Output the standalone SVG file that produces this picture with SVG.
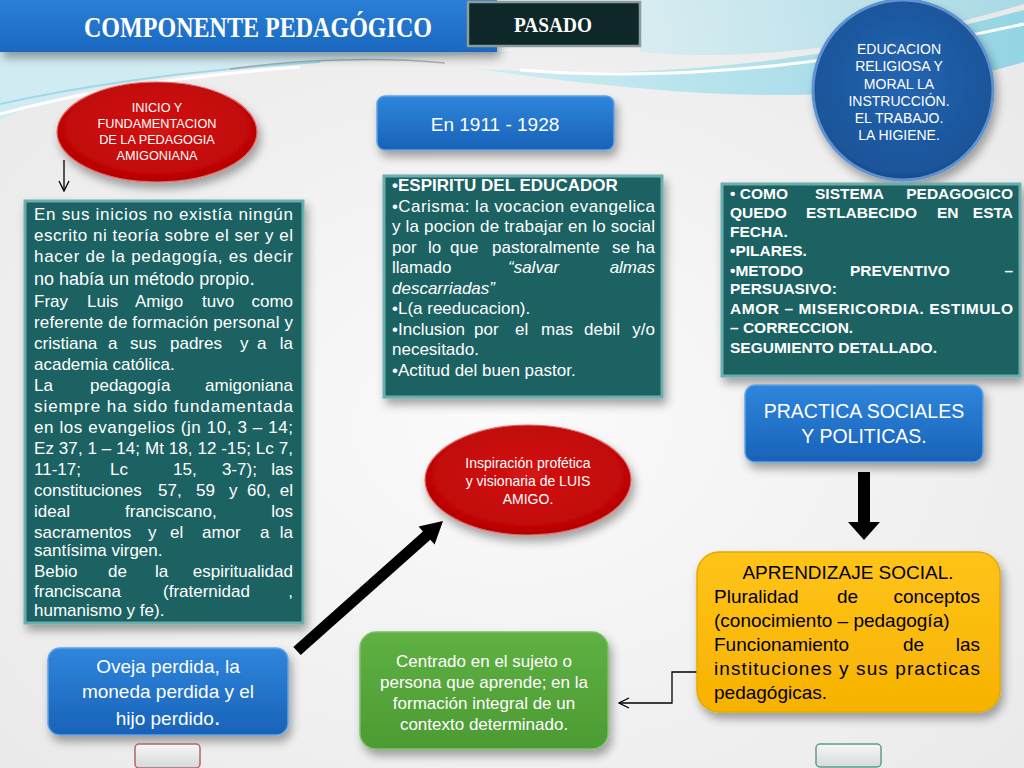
<svg xmlns="http://www.w3.org/2000/svg" width="1024" height="768" viewBox="0 0 1024 768">
<defs>
<style>
.s{font-family:"Liberation Sans",Arial,sans-serif;}
.w{fill:#ffffff;}
.k{fill:#000000;}
.b{font-weight:bold;}
.i{font-style:italic;}
.t17{font-size:17px;}
.teal{fill:#1c6262;stroke:#6aaeae;stroke-width:3;}
.blue{fill:url(#gBlue);stroke:#63a2e4;stroke-width:1.5;}
.red{fill:url(#gRed);stroke:#e46a6a;stroke-width:1.2;}
.btn{fill:url(#gBtn);stroke-width:1.5;}
</style>
<linearGradient id="gBlue" x1="0" y1="0" x2="0" y2="1"><stop offset="0" stop-color="#2f86dc"/><stop offset="1" stop-color="#1862b8"/></linearGradient>
<linearGradient id="gBanner" x1="0" y1="0" x2="0" y2="1"><stop offset="0" stop-color="#2a7fd6"/><stop offset="1" stop-color="#1a68c0"/></linearGradient>
<radialGradient id="gRed" cx="0.5" cy="0.45" r="0.6"><stop offset="0" stop-color="#d41414"/><stop offset="0.8" stop-color="#c00606"/><stop offset="1" stop-color="#a00000"/></radialGradient>
<radialGradient id="gCirc" cx="0.5" cy="0.45" r="0.6"><stop offset="0" stop-color="#2465b2"/><stop offset="0.85" stop-color="#1a5499"/><stop offset="1" stop-color="#13417c"/></radialGradient>
<linearGradient id="gYel" x1="0" y1="0" x2="0" y2="1"><stop offset="0" stop-color="#ffc41a"/><stop offset="1" stop-color="#f7b200"/></linearGradient>
<linearGradient id="gGrn" x1="0" y1="0" x2="0" y2="1"><stop offset="0" stop-color="#5fb043"/><stop offset="1" stop-color="#4c9b33"/></linearGradient>
<linearGradient id="gBtn" x1="0" y1="0" x2="0" y2="1"><stop offset="0" stop-color="#f6f6f6"/><stop offset="1" stop-color="#d6dada"/></linearGradient>
<radialGradient id="gBg" cx="0.5" cy="0.55" r="0.7"><stop offset="0" stop-color="#fbfbfb"/><stop offset="1" stop-color="#e9e9e9"/></radialGradient>
<linearGradient id="gCyan" x1="0" y1="0" x2="1" y2="0"><stop offset="0" stop-color="#c9ecf4"/><stop offset="1" stop-color="#7fd0e2"/></linearGradient>
<filter id="sh" x="-20%" y="-20%" width="140%" height="150%"><feDropShadow dx="3" dy="6" stdDeviation="5" flood-color="#000" flood-opacity="0.35"/></filter>
<marker id="openD" viewBox="0 0 12 12" refX="11" refY="6" markerWidth="12" markerHeight="12" markerUnits="userSpaceOnUse" orient="auto"><path d="M1,1 L11,6 L1,11" fill="none" stroke="#000" stroke-width="1.3"/></marker>
</defs>

<!-- background -->
<rect x="0" y="0" width="1024" height="768" fill="url(#gBg)"/>
<path d="M0,52 H520 C420,58 300,62 200,72 C120,80 50,96 0,120 Z" fill="#cdebf3" opacity="0.85"/>
<path d="M0,114 C80,92 180,76 300,67" fill="none" stroke="#ffffff" stroke-width="3"/>
<path d="M0,104 C90,84 190,70 320,62" fill="none" stroke="#9fd9e8" stroke-width="2"/>
<path d="M230,69 C300,59 380,57 445,63" fill="none" stroke="#8a8a8a" stroke-width="1.5" opacity="0.6"/>
<path d="M640,0 H1024 V4 C880,48 740,62 640,52 Z" fill="url(#gCyan)" opacity="0.6"/>
<path d="M470,68 C650,82 830,62 1024,10 L1024,62 C860,112 680,98 470,68 Z" fill="url(#gCyan)" opacity="0.8"/>
<path d="M520,70 C690,84 860,60 1024,24" fill="none" stroke="#ffffff" stroke-width="3"/>

<!-- banner -->
<g id="title">
<rect x="0" y="0" width="497" height="52" fill="url(#gBanner)" filter="url(#sh)"/>
<text x="258" y="37" text-anchor="middle" font-family="Liberation Serif, Times New Roman, serif" font-size="29" font-weight="bold" fill="#ffffff" textLength="348" lengthAdjust="spacingAndGlyphs">COMPONENTE  PEDAGÓGICO</text>
</g>
<g id="pasado">
<rect x="468" y="2" width="172" height="44" fill="#0e2729" stroke="#8a9c9c" stroke-width="2.5"/>
<text x="553" y="32" text-anchor="middle" font-family="Liberation Serif, Times New Roman, serif" font-size="22" font-weight="bold" fill="#ffffff" textLength="78" lengthAdjust="spacingAndGlyphs">PASADO</text>
</g>

<!-- connectors -->
<g id="connectors">
<line x1="64" y1="160" x2="64" y2="191" stroke="#000" stroke-width="1.3" marker-end="url(#openD)"/>
<path d="M858,472 H870 V522 H880 L864,540 L848,522 H858 Z" fill="#000"/>
<polygon points="293.3,646.9 422.9,531.5 418.6,526.6 443,521 434.6,544.6 430.3,539.7 300.7,655.1" fill="#000"/>
<polyline points="697,672 672,672 672,703 619,703" fill="none" stroke="#000" stroke-width="1.3" marker-end="url(#openD)"/>
</g>

<!-- circle -->
<g id="educacion">
<circle cx="903" cy="90" r="90" fill="url(#gCirc)" stroke="#5f92cf" stroke-width="3" filter="url(#sh)"/>
<g class="s w" font-size="14" text-anchor="middle">
<text x="899" y="54">EDUCACION</text>
<text x="899" y="71">RELIGIOSA Y</text>
<text x="899" y="89">MORAL LA</text>
<text x="899" y="106">INSTRUCCIÓN.</text>
<text x="899" y="123">EL TRABAJO.</text>
<text x="899" y="140">LA HIGIENE.</text>
</g>
</g>

<!-- red ellipse 1 -->
<g id="inicio">
<ellipse cx="157" cy="132" rx="100" ry="50" class="red" filter="url(#sh)"/>
<g class="s w" font-size="12.7" text-anchor="middle">
<text x="157" y="112">INICIO Y</text>
<text x="157" y="128">FUNDAMENTACION</text>
<text x="157" y="144">DE LA PEDAGOGIA</text>
<text x="157" y="160">AMIGONIANA</text>
</g>
</g>

<!-- left teal box -->
<g id="inicios-texto">
<rect x="25" y="201" width="278" height="422" class="teal" filter="url(#sh)"/>
<g class="s w t17">
<text x="34" y="220" textLength="259" lengthAdjust="spacing">En sus inicios no existía ningún</text>
<text x="34" y="241" textLength="259" lengthAdjust="spacing">escrito ni teoría sobre el ser y el</text>
<text x="34" y="262" textLength="259" lengthAdjust="spacing">hacer de la pedagogía, es decir</text>
<text x="34" y="285" font-size="18">no había un método propio<tspan font-size="21">.</tspan></text>
<text y="307"><tspan x="34">Fray</tspan><tspan x="87">Luis</tspan><tspan x="135">Amigo</tspan><tspan x="202">tuvo</tspan><tspan x="293" text-anchor="end">como</tspan></text>
<text x="34" y="328" textLength="259" lengthAdjust="spacing">referente de formación personal y</text>
<text y="349"><tspan x="34">cristiana</tspan><tspan x="108">a</tspan><tspan x="130">sus</tspan><tspan x="170">padres</tspan><tspan x="240">y</tspan><tspan x="257">a</tspan><tspan x="293" text-anchor="end">la</tspan></text>
<text x="34" y="370">academia católica.</text>
<text y="391"><tspan x="34">La</tspan><tspan x="90">pedagogía</tspan><tspan x="293" text-anchor="end">amigoniana</tspan></text>
<text x="34" y="412" textLength="259" lengthAdjust="spacing">siempre ha sido  fundamentada</text>
<text x="34" y="433" textLength="259" lengthAdjust="spacing">en los evangelios  (jn 10, 3 – 14;</text>
<text x="34" y="454" textLength="259" lengthAdjust="spacing">Ez 37, 1 – 14; Mt 18, 12 -15; Lc 7,</text>
<text y="475"><tspan x="34">11-17;</tspan><tspan x="110">Lc</tspan><tspan x="173">15,</tspan><tspan x="222">3-7);</tspan><tspan x="293" text-anchor="end">las</tspan></text>
<text y="496"><tspan x="34">constituciones</tspan><tspan x="158">57,</tspan><tspan x="196">59</tspan><tspan x="229">y</tspan><tspan x="247">60,</tspan><tspan x="293" text-anchor="end">el</tspan></text>
<text y="517"><tspan x="34">ideal</tspan><tspan x="125">franciscano,</tspan><tspan x="293" text-anchor="end">los</tspan></text>
<text y="538"><tspan x="34">sacramentos</tspan><tspan x="148">y</tspan><tspan x="170">el</tspan><tspan x="202">amor</tspan><tspan x="260">a</tspan><tspan x="293" text-anchor="end">la</tspan></text>
<text x="34" y="556">santísima virgen.</text>
<text y="577"><tspan x="34">Bebio</tspan><tspan x="108">de</tspan><tspan x="155">la</tspan><tspan x="293" text-anchor="end">espiritualidad</tspan></text>
<text y="597"><tspan x="34">franciscana</tspan><tspan x="163">(fraternidad</tspan><tspan x="293" text-anchor="end">,</tspan></text>
<text x="34" y="616">humanismo y fe).</text>
</g>
</g>

<!-- En 1911 -->
<g id="fecha">
<rect x="377" y="96" width="237" height="54" rx="8" class="blue" filter="url(#sh)"/>
<text x="495" y="131" text-anchor="middle" class="s w" font-size="19">En 1911 - 1928</text>
</g>

<!-- middle teal box -->
<g id="espiritu">
<rect x="384" y="176" width="278" height="221" class="teal" filter="url(#sh)"/>
<g class="s w t17">
<text x="392" y="191" class="b">•ESPIRITU DEL EDUCADOR</text>
<text x="392" y="212" textLength="263" lengthAdjust="spacing">•Carisma: la vocacion evangelica</text>
<text x="392" y="232" textLength="263" lengthAdjust="spacing">y la pocion de trabajar en lo social</text>
<text y="253"><tspan x="392">por</tspan><tspan x="428">lo</tspan><tspan x="450">que</tspan><tspan x="492">pastoralmente</tspan><tspan x="612">se</tspan><tspan x="655" text-anchor="end">ha</tspan></text>
<text y="273"><tspan x="392">llamado</tspan><tspan x="508" class="i">“salvar</tspan><tspan x="655" text-anchor="end" class="i">almas</tspan></text>
<text x="392" y="294" class="i">descarriadas”</text>
<text x="392" y="314">•L(a reeducacion).</text>
<text y="335"><tspan x="392">•Inclusion</tspan><tspan x="474">por</tspan><tspan x="515">el</tspan><tspan x="541">mas</tspan><tspan x="584">debil</tspan><tspan x="655" text-anchor="end">y/o</tspan></text>
<text x="392" y="355">necesitado.</text>
<text x="392" y="376">•Actitud del buen pastor.</text>
</g>
</g>

<!-- right teal box -->
<g id="sistema">
<rect x="722" y="184" width="298" height="192" class="teal" filter="url(#sh)"/>
<g class="s w b" font-size="15.5">
<text y="199"><tspan x="730">• COMO</tspan><tspan x="815">SISTEMA</tspan><tspan x="1013" text-anchor="end">PEDAGOGICO</tspan></text>
<text y="218"><tspan x="730">QUEDO</tspan><tspan x="806">ESTLABECIDO</tspan><tspan x="937">EN</tspan><tspan x="1013" text-anchor="end">ESTA</tspan></text>
<text x="730" y="237">FECHA.</text>
<text x="730" y="256">•PILARES.</text>
<text y="276"><tspan x="730">•METODO</tspan><tspan x="850">PREVENTIVO</tspan><tspan x="1013" text-anchor="end">–</tspan></text>
<text x="730" y="294">PERSUASIVO:</text>
<text x="730" y="314" textLength="283" lengthAdjust="spacing">AMOR – MISERICORDIA.  ESTIMULO</text>
<text x="730" y="333">– CORRECCION.</text>
<text x="730" y="353">SEGUMIENTO DETALLADO.</text>
</g>
</g>

<!-- practica -->
<g id="practica">
<rect x="745" y="385" width="238" height="77" rx="10" class="blue" filter="url(#sh)"/>
<g class="s w" font-size="19.5" text-anchor="middle">
<text x="864" y="418">PRACTICA SOCIALES</text>
<text x="864" y="443">Y POLITICAS.</text>
</g>
</g>

<!-- inspiracion -->
<g id="inspiracion">
<ellipse cx="528" cy="480" rx="103" ry="55" class="red" filter="url(#sh)"/>
<g class="s w" font-size="14" text-anchor="middle">
<text x="528" y="468">Inspiración profética</text>
<text x="528" y="486">y visionaria de LUIS</text>
<text x="528" y="504">AMIGO.</text>
</g>
</g>

<!-- aprendizaje -->
<g id="aprendizaje">
<rect x="697" y="552" width="303" height="160" rx="22" fill="url(#gYel)" stroke="#e6a800" stroke-width="1.5" filter="url(#sh)"/>
<g class="s k" font-size="19">
<text x="848" y="579" text-anchor="middle">APRENDIZAJE SOCIAL.</text>
<text y="603"><tspan x="714">Pluralidad</tspan><tspan x="837">de</tspan><tspan x="980" text-anchor="end">conceptos</tspan></text>
<text x="714" y="627">(conocimiento – pedagogía)</text>
<text y="651"><tspan x="714">Funcionamiento</tspan><tspan x="903">de</tspan><tspan x="980" text-anchor="end">las</tspan></text>
<text x="714" y="675" textLength="266" lengthAdjust="spacing">instituciones y sus practicas</text>
<text x="714" y="699">pedagógicas.</text>
</g>
</g>

<!-- centrado -->
<g id="centrado">
<rect x="360" y="632" width="248" height="117" rx="16" fill="url(#gGrn)" stroke="#7cc263" stroke-width="1.5" filter="url(#sh)"/>
<g class="s w" font-size="17" text-anchor="middle">
<text x="484" y="667">Centrado en el sujeto o</text>
<text x="484" y="688">persona que aprende; en la</text>
<text x="484" y="709">formación integral de un</text>
<text x="484" y="730">contexto determinado.</text>
</g>
</g>

<!-- oveja -->
<g id="oveja">
<rect x="48" y="648" width="240" height="87" rx="12" class="blue" filter="url(#sh)"/>
<g class="s w" font-size="19" text-anchor="middle">
<text x="168" y="673">Oveja perdida, la</text>
<text x="168" y="698">moneda perdida y el</text>
<text x="168" y="725">hijo perdido<tspan font-size="23">.</tspan></text>
</g>
</g>

<!-- buttons -->
<g id="boton-izq">
<rect x="135" y="744" width="65" height="24" rx="4" class="btn" stroke="#b06464"/>
</g>
<g id="boton-der">
<rect x="816" y="744" width="65" height="23" rx="4" class="btn" stroke="#5f9b8d"/>
</g>
</svg>
